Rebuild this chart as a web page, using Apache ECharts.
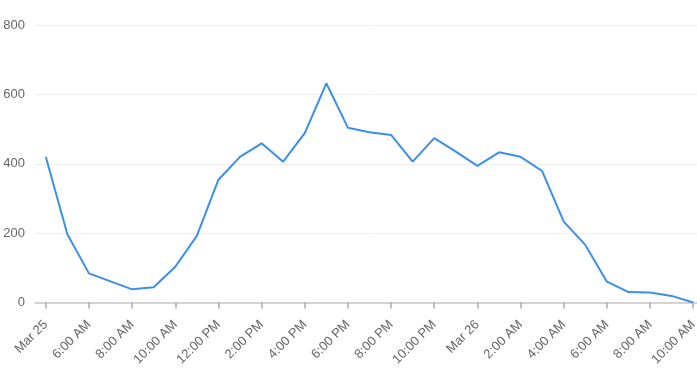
<!DOCTYPE html>
<html><head><meta charset="utf-8">
<script src="https://cdn.jsdelivr.net/npm/echarts@6/dist/echarts.min.js"></script>
<style>html,body{margin:0;padding:0;background:#fff;overflow:hidden}#c{width:704px;height:375px}</style>
</head><body><div id="c"></div>
<script>
var categories = ["Mar 25","5:00 AM","6:00 AM","7:00 AM","8:00 AM","9:00 AM","10:00 AM","11:00 AM","12:00 PM","1:00 PM","2:00 PM","3:00 PM","4:00 PM","5:00 PM","6:00 PM","7:00 PM","8:00 PM","9:00 PM","10:00 PM","11:00 PM","Mar 26","1:00 AM","2:00 AM","3:00 AM","4:00 AM","5:00 AM","6:00 AM","7:00 AM","8:00 AM","9:00 AM","10:00 AM"];
var values = [420,197,84,61,38,44,103,192,354,420,459,406,488,632,504,491,483,406,474,435,394,433,420,379,233,166,60,30,29,19,0];
var yTicks = [0,200,400,600,800];

var chart = echarts.init(document.getElementById('c'), null, {renderer:'canvas'});
chart.setOption({
  animation:false,
  grid:{left:35,right:0,top:25,bottom:72.5,containLabel:false},
  xAxis:{
    type:'category', data:categories, boundaryGap:true,
    axisLine:{lineStyle:{color:'#c8c8c8',width:1.5}},
    axisTick:{show:true,alignWithLabel:true,interval:1,length:6,lineStyle:{color:'#aaaaaa',width:1.5}},
    axisLabel:{interval:1,rotate:45,margin:20,color:'#666',fontSize:13,fontFamily:'Liberation Sans, Arial, sans-serif'},
    splitLine:{show:false}
  },
  yAxis:{
    type:'value', min:yTicks[0], max:yTicks[yTicks.length-1], interval:200,
    axisLine:{show:false}, axisTick:{show:false},
    axisLabel:{margin:10,color:'#666',fontSize:13,fontFamily:'Liberation Sans, Arial, sans-serif'},
    splitLine:{lineStyle:{color:'#eeeeee',width:1}}
  },
  series:[{
    type:'line', data:values, symbol:'none', smooth:false,
    lineStyle:{color:'#3b8fe8',width:2}
  }]
});
</script></body></html>
